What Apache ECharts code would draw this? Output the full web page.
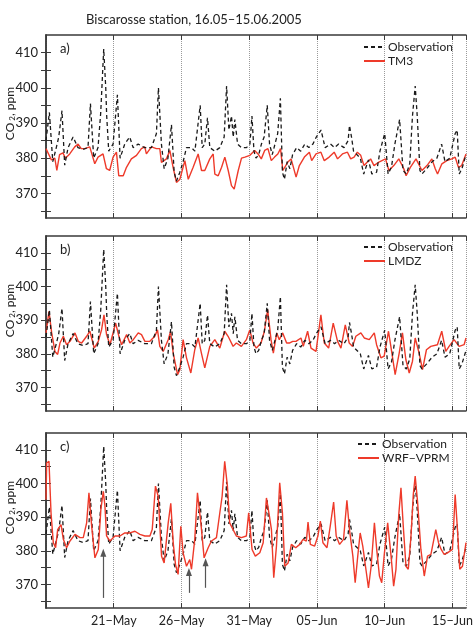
<!DOCTYPE html>
<html>
<head>
<meta charset="utf-8">
<script src="https://cdn.jsdelivr.net/npm/echarts@6/dist/echarts.min.js"></script>
<style>
html,body{margin:0;padding:0;background:#fff;}
#main{width:475px;height:627px;}
</style>
</head>
<body>
<div id="main"></div>
<script>
// time in days since 16.05.2005 00:00, CO2 in ppm
var obsData = [
	[0,385],[0.25,393],[0.5,379],[0.76,383],[0.94,386],[1.18,393.5],[1.38,378],[1.63,383],[2.0,386],[2.36,383],
	[2.73,382.5],[3.1,383],[3.28,395.5],[3.52,380],[3.84,383],[4.04,393],[4.26,411],[4.41,400],[4.48,392],[4.63,382],
	[4.95,384],[5.27,398],[5.47,380],[5.81,384],[6.18,386],[6.43,383],[6.8,384],[7.29,383],[7.78,383],[8.15,387],
	[8.3,400],[8.52,384],[8.72,377],[9.0,380],[9.26,389.5],[9.46,376],[9.63,373.5],[9.88,376],[10.12,379],[10.37,383],
	[10.74,383],[10.99,382],[11.38,395],[11.53,383],[11.72,384],[11.92,391.5],[12.09,383],[12.46,382],[12.83,383],[13.15,386],
	[13.33,400.5],[13.5,388],[13.69,392],[13.82,386],[13.94,391],[14.14,384],[14.43,383],[14.8,383],[15.05,384],[15.2,392],
	[15.35,382],[15.5,380],[15.7,381],[15.9,384],[16.1,386],[16.33,395],[16.5,384],[16.7,381],[16.9,384],[17.1,387],
	[17.3,397],[17.45,376],[17.6,374],[17.8,379],[18.0,377],[18.2,381],[18.5,383],[18.8,382],[19.1,384],[19.4,383],
	[19.7,384],[19.95,386],[20.3,388],[20.6,383],[21.0,384],[21.3,383],[21.6,384],[22.0,383],[22.3,385],[22.4,389.3],
	[22.55,386],[22.7,382],[23.2,380],[23.45,375.5],[23.8,379.5],[24.05,375.5],[24.4,376],[24.65,382],[25.0,387],[25.25,375.5],
	[25.5,377.5],[25.75,384],[26.1,391],[26.35,376.5],[26.6,375.5],[26.85,378.5],[27.05,392],[27.25,400.5],[27.4,392],[27.6,376.5],
	[27.75,375.5],[28.1,377],[28.5,379],[28.85,380],[29.2,384],[29.45,379],[29.8,380],[30.2,387],[30.35,388],[30.5,375.5],
	[30.7,377],[31.0,381]
];
var tm3Data = [
	[0,382.7],[0.1,382.7],[0.4,379.5],[0.65,380],[0.8,376.5],[1.0,381],[1.25,381.5],[1.43,380],[1.75,381.2],[2.12,383.2],
	[2.37,384],[2.6,382.7],[2.86,382.7],[3.23,383.2],[3.35,382.7],[3.6,378.4],[3.84,380.3],[4.21,381.2],[4.46,377],[4.7,376.5],
	[4.95,380.3],[5.2,381.7],[5.37,375],[5.7,375],[5.94,377.4],[6.3,379.8],[6.68,380.8],[7.04,382.7],[7.29,383.2],[7.41,381.2],
	[7.78,383.2],[8.15,382.7],[8.4,382.7],[8.52,378.8],[8.89,379.8],[9.14,382.2],[9.38,377.4],[9.63,373.1],[9.88,374],[10.25,379.3],
	[10.37,379.8],[10.5,374],[10.86,377.4],[11.23,381.2],[11.48,376.5],[11.72,376.5],[12.09,379.8],[12.34,381.2],[12.46,375.5],[12.71,375],
	[12.96,377.4],[13.2,380.3],[13.45,376.5],[13.69,372.2],[13.89,371.2],[14.19,376.5],[14.43,380],[14.68,380.3],[15.05,380.8],[15.4,382.2],
	[15.65,381.2],[15.89,379.8],[16.14,382.2],[16.38,382.7],[16.63,379.3],[16.87,380.3],[17.11,381.2],[17.31,382.7],[17.48,376.5],[17.85,378.9],
	[18.09,379.8],[18.46,374.6],[18.7,377.9],[19.07,380.3],[19.44,381.7],[19.61,379.3],[19.93,381.2],[20.29,381.7],[20.54,379.3],[20.9,380.3],
	[21.27,381.7],[21.52,379.8],[21.88,381.2],[22.25,381.7],[22.49,379.8],[22.74,380.3],[22.98,381.7],[23.23,380.8],[23.47,377.9],[23.72,378.9],
	[23.96,379.8],[24.21,377.9],[24.57,378.9],[25.06,379.8],[25.31,376.5],[25.67,377.9],[26.04,379.8],[26.41,377],[26.58,375],[26.89,377.4],
	[27.31,379.8],[27.75,376.5],[28.12,377.9],[28.48,379.8],[28.73,377],[28.9,375.5],[29.22,378.4],[29.58,379.3],[29.95,379.8],[30.2,380.3],
	[30.44,377.4],[30.68,377.9],[31.0,381.2]
];
var lmdzData = [
	[0,386.2],[0.22,392.6],[0.42,386.2],[0.66,380.7],[0.86,379.8],[1.03,383.2],[1.28,385.2],[1.52,382.7],[1.77,383.7],[2.14,386.2],
	[2.38,383.7],[2.63,383.2],[3.0,385.2],[3.24,386.7],[3.56,381.7],[3.86,383.7],[4.1,387.1],[4.28,391.6],[4.47,385.7],[4.72,382.7],
	[5.14,389.1],[5.38,385.2],[5.58,382.7],[5.95,385.7],[6.19,383.2],[6.44,384.2],[6.81,386.2],[7.05,385.7],[7.3,383.7],[7.67,383.7],
	[8.03,385.2],[8.23,387.1],[8.4,382.2],[8.65,380.7],[9.02,384.2],[9.19,386.6],[9.39,380.2],[9.71,373.8],[9.88,375.3],[10.12,384.2],
	[10.37,378.8],[10.69,374.3],[10.98,381.2],[11.23,384.7],[11.47,380.2],[11.72,375.8],[12.09,382.2],[12.46,384.2],[12.83,381.7],[13.19,386.7],
	[13.44,385.2],[13.81,382.2],[14.05,383.2],[14.42,382.2],[14.79,384.2],[15.04,387.1],[15.28,383.2],[15.53,381.7],[15.87,383.2],[16.12,386.7],
	[16.36,393.1],[16.61,384.2],[16.78,380.2],[17.03,386.2],[17.22,384.2],[17.47,386.2],[17.76,383.2],[17.96,383.2],[18.21,383.7],[18.45,383.7],
	[18.82,384.7],[18.99,382.2],[19.31,386.7],[19.56,381.7],[19.93,380.7],[20.29,391.6],[20.54,383.2],[20.86,381.7],[21.2,389.1],[21.52,383.7],
	[21.77,381.7],[22.09,388.6],[22.38,383.2],[22.63,382.2],[22.87,385.2],[23.24,386.2],[23.49,384.7],[23.86,384.2],[24.23,386.2],[24.4,382.7],
	[24.72,378.8],[24.96,379.3],[25.28,386.7],[25.53,380.2],[25.77,373.8],[26.07,380.2],[26.31,386.2],[26.56,378.3],[26.81,374.3],[27.05,377.8],
	[27.25,384.7],[27.54,380.2],[27.79,375.3],[28.08,381.2],[28.4,382.2],[28.89,382.7],[29.21,386.7],[29.51,380.7],[29.75,382.2],[30.12,384.2],
	[30.49,382.2],[30.86,382.7],[31.0,384.7]
];
var wrfData = [
	[0,395.2],[0.05,406.1],[0.22,406.6],[0.37,391.3],[0.54,382.4],[0.71,380.9],[0.86,386.3],[1.11,387.8],[1.28,383.4],[1.52,380.9],
	[1.77,382.9],[2.14,384.9],[2.51,383.9],[2.75,383.9],[3.0,388.3],[3.17,397.2],[3.37,387.3],[3.61,377.9],[3.86,380.4],[4.05,392.3],
	[4.23,397.7],[4.35,393.3],[4.47,384.4],[4.72,382.9],[5.09,384.4],[5.45,384.4],[5.82,385.3],[6.19,385.3],[6.56,385.8],[6.93,384.9],
	[7.3,384.4],[7.67,384.4],[7.84,386.3],[8.08,399.2],[8.28,396.2],[8.53,378.4],[8.72,376.4],[9.02,388.3],[9.21,394.1],[9.39,382.4],
	[9.56,375.9],[9.75,373],[9.95,387.3],[10.12,379.4],[10.37,375.4],[10.61,377.4],[10.74,374.5],[10.98,383.4],[11.18,397.2],[11.43,388.3],
	[11.67,377.9],[11.97,380.9],[12.21,382.9],[12.58,383.9],[12.83,391.3],[13.0,396.2],[13.19,406.6],[13.39,399.2],[13.56,388.3],[13.81,386.3],
	[14.05,384.4],[14.42,383.9],[14.79,384.4],[14.96,391.3],[15.21,380.4],[15.45,378.4],[15.78,379.4],[16.03,382.4],[16.27,395.7],[16.47,390.8],
	[16.64,386.3],[16.81,372],[17.01,381.4],[17.25,400.2],[17.45,391.3],[17.62,375.4],[17.87,376.4],[18.11,381.9],[18.43,380.9],[18.73,381.9],
	[18.97,383.4],[19.22,382.9],[19.34,388.5],[19.51,381.9],[19.83,381.4],[20.07,384.4],[20.25,388.8],[20.44,382.4],[20.74,380.9],[20.98,387.3],
	[21.23,394.5],[21.42,384.4],[21.67,381.9],[21.96,383.4],[22.21,395],[22.4,386.3],[22.65,378.4],[22.82,370.5],[23.01,378.4],[23.19,385.3],
	[23.38,381.4],[23.63,374],[23.8,369],[24.0,375.4],[24.24,388.3],[24.41,380.4],[24.61,372.5],[24.78,370.5],[24.98,379.4],[25.22,388.3],
	[25.47,378.4],[25.66,369.5],[25.83,374.5],[26.03,390.3],[26.2,398.7],[26.37,387.3],[26.57,375.4],[26.74,374.5],[26.94,384.4],[27.11,396.7],
	[27.25,402.2],[27.43,394.3],[27.67,380.4],[27.92,372.5],[28.16,378.4],[28.41,378.9],[28.77,386.3],[28.97,382.4],[29.17,380.4],[29.39,378.9],
	[29.63,379.4],[30.0,380.4],[30.2,396.7],[30.37,386.3],[30.54,374.5],[30.74,375.4],[31.0,382.4]
];
var modelData = [tm3Data, lmdzData, wrfData];
var modelNames = ['TM3', 'LMDZ', 'WRF−VPRM'];
var panelLetters = ['a)', 'b)', 'c)'];
var dateLabels = ['16−May', '21−May', '26−May', '31−May', '05−Jun', '10−Jun', '15−Jun'];
var yTickValues = [365, 370, 375, 380, 385, 390, 395, 400, 405, 410];
var yLabelValues = [370, 380, 390, 400, 410];
// arrows in panel c: [day, from ppm, to ppm]
var arrowMarks = [[4.23, 366, 379.4], [10.55, 367.5, 373.7], [11.78, 369, 376.6]];

var FONT = 'Lato';
var AXIS_COLOR = '#3a3a3a';
var RED = '#ee3a2a';

var panelBoxes = [
	{ top: 35, height: 183 },
	{ top: 236, height: 175 },
	{ top: 433, height: 175 }
];
var legendPos = [
	{ left: 363, top: 41 },
	{ left: 363, top: 241 },
	{ left: 357, top: 438 }
];

var myChart = echarts.init(document.getElementById('main'));

var grid = [], xAxis = [], yAxis = [], series = [], legend = [], graphic = [];

panelBoxes.forEach(function(box, i) {
	grid.push({ left: 46, right: 9, top: box.top, height: box.height, show: false, containLabel: false, outerBoundsMode: 'none' });
	var isLast = i === panelBoxes.length - 1;
	// bottom x axis
	xAxis.push({
		type: 'value', gridIndex: i, min: 0, max: 31, interval: 5, position: 'bottom',
		axisLine: { show: true, lineStyle: { color: AXIS_COLOR, width: 1.5 } },
		axisTick: { show: true, inside: true, length: 5, lineStyle: { color: AXIS_COLOR, width: 1 } },
		axisLabel: {
			show: isLast, margin: 6, color: '#222', fontFamily: FONT, fontSize: 12.5,
			formatter: function(v) { return v === 0 ? '' : dateLabels[Math.round(v / 5)]; }
		},
		splitLine: { show: true, lineStyle: { color: '#9a9a9a', type: 'dotted', width: 1 } }
	});
	// top x axis (frame only)
	xAxis.push({
		type: 'value', gridIndex: i, min: 0, max: 31, interval: 5, position: 'top',
		axisLine: { show: true, lineStyle: { color: AXIS_COLOR, width: 1.5 } },
		axisTick: { show: true, inside: true, length: 5, lineStyle: { color: AXIS_COLOR, width: 1 } },
		axisLabel: { show: false },
		splitLine: { show: false }
	});
	yAxis.push({
		type: 'value', gridIndex: i, min: 363, max: 415, position: 'left',
		name: '{n|CO}{s| 2}{n|, ppm}', nameLocation: 'middle', nameGap: 30, nameRotate: 90,
		nameMoveOverlap: false,
		nameTextStyle: {
			padding: [0, 0, 0, 26],
			rich: {
				n: { fontFamily: FONT, fontSize: 12, color: '#222' },
				s: { fontFamily: FONT, fontSize: 8, color: '#222', padding: [4, 0, 0, 0] }
			}
		},
		axisLine: { show: true, lineStyle: { color: AXIS_COLOR, width: 1.5 } },
		axisTick: { show: true, inside: true, length: 5, customValues: yTickValues, lineStyle: { color: AXIS_COLOR, width: 1 } },
		axisLabel: { show: true, customValues: yLabelValues, margin: 8, color: '#222', fontFamily: FONT, fontSize: 13 },
		splitLine: { show: false }
	});
	yAxis.push({
		type: 'value', gridIndex: i, min: 363, max: 415, position: 'right',
		axisLine: { show: true, lineStyle: { color: AXIS_COLOR, width: 1.5 } },
		axisTick: { show: true, inside: true, length: 5, customValues: yTickValues, lineStyle: { color: AXIS_COLOR, width: 1 } },
		axisLabel: { show: false },
		splitLine: { show: false }
	});

	series.push({
		name: 'Observation', type: 'line', xAxisIndex: i * 2, yAxisIndex: i * 2,
		data: obsData, showSymbol: false, symbol: 'none', z: 3,
		lineStyle: { color: '#1a1a1a', width: 1.3, type: [4, 3] },
		itemStyle: { color: '#1a1a1a' }
	});
	var model = {
		name: modelNames[i], type: 'line', xAxisIndex: i * 2, yAxisIndex: i * 2,
		data: modelData[i], showSymbol: false, symbol: 'none', z: isLast ? 4 : 2,
		lineStyle: { color: RED, width: 1.4 },
		itemStyle: { color: RED }
	};
	if(isLast) {
		model.markLine = {
			silent: true, animation: false,
			symbol: ['none', 'triangle'], symbolSize: [6, 8],
			label: { show: false },
			lineStyle: { color: '#555', type: 'solid', width: 1.2 },
			data: arrowMarks.map(function(a) {
				return [{ coord: [a[0], a[1]] }, { coord: [a[0], a[2]] }];
			})
		};
	}
	series.push(model);

	legend.push({
		data: ['Observation', modelNames[i]],
		orient: 'vertical', left: legendPos[i].left, top: legendPos[i].top,
		itemWidth: 21, itemHeight: 10, itemGap: 2, padding: 0,
		itemStyle: { opacity: 0, borderWidth: 0 },
		textStyle: { fontFamily: FONT, fontSize: 12, color: '#222', padding: [0, 0, 0, -2] },
		selectedMode: false
	});

	graphic.push({
		type: 'text', left: 60, top: box.top + 7,
		style: { text: panelLetters[i], fontFamily: FONT, fontSize: 13, fill: '#222' }
	});
});

graphic.push({
	type: 'text', left: 86, top: 13,
	style: { text: 'Biscarosse station, 16.05–15.06.2005', fontFamily: FONT, fontSize: 13, fill: '#222' }
});

myChart.setOption({
	animation: false,
	backgroundColor: '#fff',
	grid: grid,
	xAxis: xAxis,
	yAxis: yAxis,
	legend: legend,
	graphic: graphic,
	series: series
});
</script>
</body>
</html>
